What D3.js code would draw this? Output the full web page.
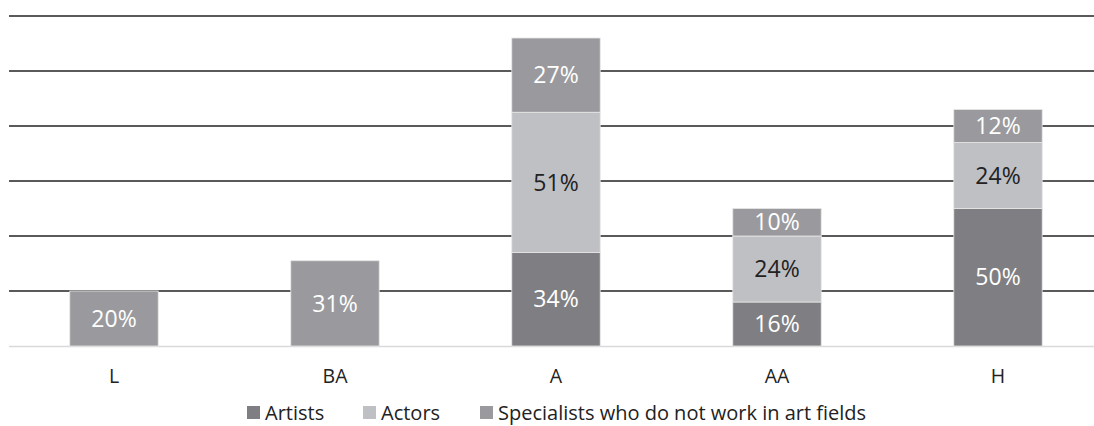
<!DOCTYPE html>
<html><head><meta charset="utf-8">
<script src="https://cdn.jsdelivr.net/npm/d3@7/dist/d3.min.js"></script>
<style>body{margin:0;background:#fff}svg{display:block}</style>
</head><body>
<svg id="c" width="1094" height="426"></svg>
<script>
const categories = ["L","BA","A","AA","H"];
const seriesNames = ["Artists","Actors","Specialists who do not work in art fields"];
const artists = [0,0,34,16,50];
const actors = [0,0,51,24,24];
const specialists = [20,31,27,10,12];
const yTicks = [0,20,40,60,80,100,120];
const colors = ["#7f7f83","#bfc0c4","#9a9a9e"];
const labelColors = ["#ffffff","#222222","#ffffff"];

const svg = d3.select("#c");
const font = "'Open Sans', sans-serif";
const x = d3.scaleBand().domain(categories).range([3.5,1108.5]).paddingInner(0.6).paddingOuter(0.3);
const y = d3.scaleLinear().domain([0,120]).range([346,16]);

svg.append("g").selectAll("line").data(yTicks.filter(d=>d>0)).join("line")
  .attr("x1",9).attr("x2",1094).attr("y1",d=>y(d)).attr("y2",d=>y(d))
  .attr("stroke","#5a5a5a").attr("stroke-width",2);
svg.append("line").attr("x1",9).attr("x2",1094).attr("y1",y(0)+0.5).attr("y2",y(0)+0.5)
  .attr("stroke","#d9d9d9").attr("stroke-width",1.5);

const rows = categories.map((c,i)=>({cat:c,Artists:artists[i],Actors:actors[i],Spec:specialists[i]}));
const stack = d3.stack().keys(["Artists","Actors","Spec"])(rows);

const lblSize = 23;
stack.forEach((layer,k)=>{
  const g = svg.append("g");
  layer.forEach(d=>{
    const v = d[1]-d[0];
    if(v<=0) return;
    g.append("rect").attr("x",x(d.data.cat)).attr("width",x.bandwidth())
      .attr("y",y(d[1])).attr("height",y(d[0])-y(d[1]))
      .attr("fill",colors[k]).attr("stroke","#e6e6e6").attr("stroke-width",0.8);
    g.append("text").attr("x",x(d.data.cat)+x.bandwidth()/2)
      .attr("y",(y(d[0])+y(d[1]))/2 + 0.357*lblSize)
      .attr("text-anchor","middle").attr("font-family",font).attr("font-size",lblSize)
      .attr("fill",labelColors[k]).text(v+"%");
  });
});

svg.append("g").selectAll("text").data(categories).join("text")
  .attr("x",d=>x(d)+x.bandwidth()/2).attr("y",383)
  .attr("text-anchor","middle").attr("font-family",font).attr("font-size",19.5).attr("fill","#222").text(d=>d);

const legX = [247,363,480];
const lg = svg.append("g");
seriesNames.forEach((n,i)=>{
  lg.append("rect").attr("x",legX[i]).attr("y",406).attr("width",13).attr("height",13).attr("fill",colors[i]);
  lg.append("text").attr("x",legX[i]+18).attr("y",420)
    .attr("font-family",font).attr("font-size",20).attr("fill","#222").text(n);
});
</script>
</body></html>
